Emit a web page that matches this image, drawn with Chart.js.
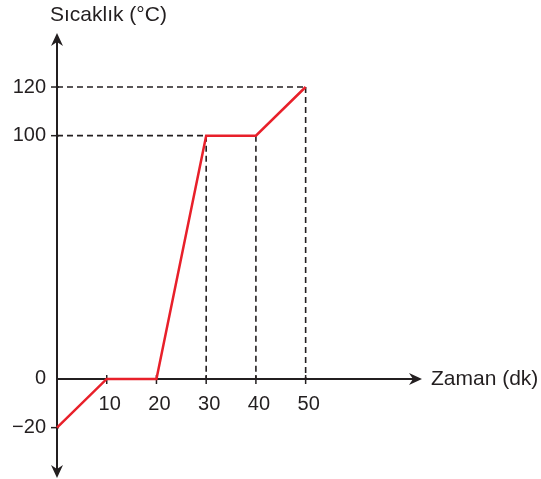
<!DOCTYPE html>
<html>
<head>
<meta charset="utf-8">
<script src="https://cdn.jsdelivr.net/npm/chart.js@4/dist/chart.umd.min.js"></script>
<style>
  html, body { margin: 0; padding: 0; background: #fff; }
  canvas { display: block; }
</style>
</head>
<body>
<canvas id="chart" width="541" height="479"></canvas>
<script>
// zaman (dk) ve sıcaklık (°C) değerleri
const times = [0, 10, 20, 30, 40, 50];
const temps = [-20, 0, 0, 100, 100, 120];
const xTicks = [10, 20, 30, 40, 50];
const yTicks = [-20, 0, 100, 120];
const xTitle = 'Zaman (dk)';
const yTitle = 'Sıcaklık (°C)';

const ink = '#231f20';
const red = '#e8202a';
const font = 'Liberation Sans, Arial, sans-serif';

// red curve
const curve = times.map((t, i) => ({ x: t, y: temps[i] }));

// dashed guides: horizontal from the axis to the first point of each level, vertical down to 0
const guides = [];
yTicks.filter(v => v > 0).forEach(level => {
    const i = temps.indexOf(level);
    guides.push([{ x: 0, y: level }, { x: times[i], y: level }]);
});
times.forEach((t, i) => {
    if (temps[i] > 0) guides.push([{ x: t, y: temps[i] }, { x: t, y: 0 }]);
});

const datasets = [{
    data: curve,
    showLine: true,
    borderColor: red,
    borderWidth: 2.5,
    pointRadius: 0,
    clip: false,
    order: 0
}];
guides.forEach(g => datasets.push({
    data: g,
    showLine: true,
    borderColor: ink,
    borderWidth: 1.6,
    borderDash: [6, 4],
    pointRadius: 0,
    clip: false,
    order: 1
}));

function arrow(ctx, x, y, dx, dy) {
    // stealth arrowhead, tip at (x, y) pointing along (dx, dy)
    const len = 13, half = 6, notch = 9;
    const px = -dy, py = dx;
    ctx.beginPath();
    ctx.moveTo(x, y);
    ctx.lineTo(x - dx * len + px * half, y - dy * len + py * half);
    ctx.lineTo(x - dx * notch, y - dy * notch);
    ctx.lineTo(x - dx * len - px * half, y - dy * len - py * half);
    ctx.closePath();
    ctx.fill();
}

const axesPlugin = {
    id: 'axes',
    beforeDatasetsDraw(chart) {
        const { ctx, chartArea, scales } = chart;
        const x0 = scales.x.getPixelForValue(0);
        const y0 = scales.y.getPixelForValue(0);
        ctx.save();
        ctx.strokeStyle = ink;
        ctx.fillStyle = ink;
        ctx.lineWidth = 2;

        // y axis with arrows on both ends
        ctx.beginPath();
        ctx.moveTo(x0, chartArea.top + 6);
        ctx.lineTo(x0, chartArea.bottom - 6);
        ctx.stroke();
        arrow(ctx, x0, chartArea.top, 0, -1);
        arrow(ctx, x0, chartArea.bottom, 0, 1);

        // x axis
        ctx.beginPath();
        ctx.moveTo(x0, y0);
        ctx.lineTo(chartArea.right - 6, y0);
        ctx.stroke();
        arrow(ctx, chartArea.right, y0, 1, 0);

        // tick marks
        ctx.lineWidth = 1.5;
        xTicks.forEach(v => {
            const px = scales.x.getPixelForValue(v);
            ctx.beginPath();
            ctx.moveTo(px, y0 - 4);
            ctx.lineTo(px, y0 + 5);
            ctx.stroke();
        });
        yTicks.filter(v => v !== 0).forEach(v => {
            const py = scales.y.getPixelForValue(v);
            ctx.beginPath();
            ctx.moveTo(x0 - 6, py);
            ctx.lineTo(x0 + 2, py);
            ctx.stroke();
        });

        // axis titles
        ctx.font = '21px ' + font;
        ctx.textBaseline = 'middle';
        ctx.textAlign = 'left';
        ctx.fillText(yTitle, 50, 15);
        ctx.fillText(xTitle, 431, y0);
        ctx.restore();
    }
};

new Chart(document.getElementById('chart'), {
    type: 'scatter',
    data: { datasets: datasets },
    options: {
        responsive: false,
        devicePixelRatio: 1,
        animation: false,
        layout: { padding: { left: 0, top: 33, right: 119, bottom: 1 } },
        plugins: {
            legend: { display: false },
            tooltip: { enabled: false }
        },
        scales: {
            x: {
                type: 'linear',
                min: 0,
                max: 73.4,
                position: { y: 0 },
                afterFit: scale => { scale.height = 0; },
                grid: { display: false, drawTicks: false },
                border: { display: false },
                afterBuildTicks: scale => { scale.ticks = xTicks.map(v => ({ value: v })); },
                ticks: {
                    autoSkip: false,
                    maxRotation: 0,
                    padding: 14,
                    labelOffset: 3,
                    color: ink,
                    font: { family: font, size: 20 }
                }
            },
            y: {
                type: 'linear',
                min: -40.7,
                max: 142.2,
                position: 'left',
                afterFit: scale => {
                    scale.width = 57;
                    scale.paddingTop = 0;
                    scale.paddingBottom = 0;
                },
                grid: { display: false, drawTicks: false },
                border: { display: false },
                afterBuildTicks: scale => { scale.ticks = yTicks.map(v => ({ value: v })); },
                ticks: {
                    autoSkip: false,
                    padding: 11,
                    color: ink,
                    font: { family: font, size: 20 },
                    callback: v => v < 0 ? '\u2212' + Math.abs(v) : String(v)
                }
            }
        }
    },
    plugins: [axesPlugin]
});
</script>
</body>
</html>
